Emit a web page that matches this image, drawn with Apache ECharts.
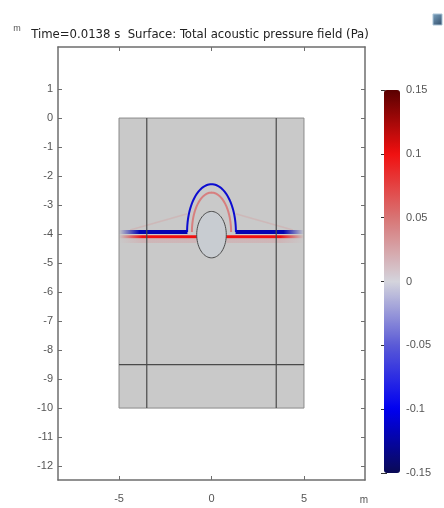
<!DOCTYPE html>
<html><head><meta charset="utf-8">
<script src="https://cdn.jsdelivr.net/npm/echarts@6/dist/echarts.min.js"></script>
<style>html,body{margin:0;padding:0;background:#fff}#c{width:444px;height:508px}</style>
</head><body><div id="c"></div>
<script>
// ---- data ----
const titleText = 'Time=0.0138 s  Surface: Total acoustic pressure field (Pa)';
const unitLabel = 'm';
const xTicks = [-5, 0, 5];
const yTicks = [1, 0, -1, -2, -3, -4, -5, -6, -7, -8, -9, -10, -11, -12];
const colorTicks = [0.15, 0.1, 0.05, 0, -0.05, -0.1, -0.15];
const xRange = [-8.3, 8.3];
const yRange = [-12.48, 2.45];
const pRange = [-0.15, 0.15];
// computational domain [xmin, ymax, xmax, ymin]
const domain = [[-5, 0, 5, -10]];
// interior boundaries [x0, y0, x1, y1]
const boundaries = [[-3.5, 0, -3.5, -10], [3.5, 0, 3.5, -10], [-5, -8.5, 5, -8.5]];
// scatterer [cx, cy, r]
const scatterer = [[0, -4.02, 0.8]];
// plane wave bands [p, x0, x1, y]
const planeWave = [
  [0.03, -5.0, -0.8, -4.24], [0.03, 0.8, 5.0, -4.24],
  [0.1, -5.0, -0.78, -4.09], [0.1, 0.78, 5.0, -4.09],
  [-0.12, -5.0, -1.3, -3.93], [-0.12, 1.3, 5.0, -3.93]
];
// diffracted faint fronts [p, x0, y0, x1, y1]
const diffracted = [[0.035, 1.3, -3.3, 4.4, -3.86], [0.035, -1.3, -3.3, -4.4, -3.86]];
// scattered wave fronts [p, cx, cy, rx, ry]
const scatteredWave = [[0.06, 0, -3.93, 1.06, 1.36], [-0.11, 0, -3.93, 1.32, 1.65]];

const colormap = ['#0a0a55', '#0000f0', '#5a5ad6', '#d4d4dc', '#d87474', '#f01010', '#5a0000'];
const TFONT = "'DejaVu Sans Condensed','Liberation Sans',sans-serif";
const FONT = "'Liberation Sans',sans-serif";
const AX = '#6e6e6e';

const chart = echarts.init(document.getElementById('c'), null, {renderer: 'canvas'});

function renderDomain(params, api) {
  const a = api.coord([api.value(0), api.value(1)]);
  const b = api.coord([api.value(2), api.value(3)]);
  return {type: 'rect', shape: {x: a[0], y: a[1], width: b[0] - a[0], height: b[1] - a[1]},
    style: {fill: '#c9c9c9', stroke: '#8a8a8a', lineWidth: 1}};
}
function renderSeg(params, api) {
  const a = api.coord([api.value(0), api.value(1)]);
  const b = api.coord([api.value(2), api.value(3)]);
  return {type: 'line', shape: {x1: a[0], y1: a[1], x2: b[0], y2: b[1]},
    style: {stroke: '#4a4a4a', lineWidth: 1.2}};
}
function fadeColor(c) { return echarts.color.modifyAlpha(c, 0); }
function renderBand(params, api) {
  const p = api.value(0);
  const x0 = api.value(1), x1 = api.value(2), y = api.value(3);
  const a = api.coord([x0, y]);
  const b = api.coord([x1, y]);
  const color = api.visual('color');
  const outerLeft = Math.abs(x0) > Math.abs(x1);
  const stops = outerLeft
    ? [{offset: 0, color: fadeColor(color)}, {offset: 0.3, color: color}, {offset: 1, color: color}]
    : [{offset: 0, color: color}, {offset: 0.7, color: color}, {offset: 1, color: fadeColor(color)}];
  const faint = Math.abs(p) < 0.05;
  return {type: 'line', shape: {x1: a[0], y1: a[1], x2: b[0], y2: b[1]},
    style: {stroke: {type: 'linear', x: a[0], y: 0, x2: b[0], y2: 0, global: true, colorStops: stops},
      lineWidth: faint ? 4 : (p < 0 ? 4 : 3), opacity: faint ? 0.4 : 1}};
}
function renderDiff(params, api) {
  const a = api.coord([api.value(1), api.value(2)]);
  const b = api.coord([api.value(3), api.value(4)]);
  return {type: 'line', shape: {x1: a[0], y1: a[1], x2: b[0], y2: b[1]},
    style: {stroke: api.visual('color'), lineWidth: 1.5, opacity: 0.3}};
}
function renderArc(params, api) {
  const c = api.coord([api.value(1), api.value(2)]);
  const s = api.size([api.value(3), api.value(4)]);
  const pts = [];
  for (let i = 0; i <= 60; i++) {
    const t = Math.PI * i / 60;
    pts.push([c[0] + s[0] * Math.cos(t), c[1] - s[1] * Math.sin(t)]);
  }
  const p = api.value(0);
  return {type: 'polyline', shape: {points: pts},
    style: {stroke: api.visual('color'), fill: null, lineWidth: 2, opacity: p < 0 ? 0.95 : 0.7}};
}
function renderScatterer(params, api) {
  const c = api.coord([api.value(0), api.value(1)]);
  const s = api.size([api.value(2), api.value(2)]);
  const pts = [];
  for (let i = 0; i < 72; i++) {
    const t = 2 * Math.PI * i / 72;
    pts.push([c[0] + s[0] * Math.cos(t), c[1] + s[1] * Math.sin(t)]);
  }
  return {type: 'polygon', shape: {points: pts},
    style: {fill: '#c8ccd1', stroke: '#4a4a4a', lineWidth: 1}};
}

const axisCommon = {
  type: 'value', gridIndex: 0,
  axisLine: {show: true, onZero: false, lineStyle: {color: AX, width: 1.5}},
  splitLine: {show: false}
};

const option = {
  animation: false,
  backgroundColor: '#ffffff',
  grid: [
    {left: 58, top: 47, width: 307, height: 433},
    {left: 384, top: 90, width: 16, height: 383}
  ],
  xAxis: [
    Object.assign({}, axisCommon, {position: 'bottom', min: xRange[0], max: xRange[1],
      axisTick: {inside: true, length: 4, customValues: xTicks, lineStyle: {color: AX}},
      axisLabel: {customValues: xTicks, margin: 13, fontSize: 11, color: '#555', fontFamily: FONT}}),
    Object.assign({}, axisCommon, {position: 'top', min: xRange[0], max: xRange[1],
      axisTick: {inside: true, length: 4, customValues: xTicks, lineStyle: {color: AX}},
      axisLabel: {show: false}}),
    {type: 'value', gridIndex: 1, min: 0, max: 1, show: false}
  ],
  yAxis: [
    Object.assign({}, axisCommon, {position: 'left', min: yRange[0], max: yRange[1],
      axisTick: {inside: true, length: 4, customValues: yTicks, lineStyle: {color: AX}},
      axisLabel: {customValues: yTicks, margin: 5, fontSize: 11, color: '#555', fontFamily: FONT}}),
    Object.assign({}, axisCommon, {position: 'right', min: yRange[0], max: yRange[1],
      axisTick: {inside: true, length: 4, customValues: yTicks, lineStyle: {color: AX}},
      axisLabel: {show: false}}),
    {type: 'value', gridIndex: 1, position: 'right', min: pRange[0], max: pRange[1],
      axisLine: {show: false}, splitLine: {show: false},
      axisTick: {inside: true, length: 3, customValues: colorTicks, lineStyle: {color: '#333'}},
      axisLabel: {customValues: colorTicks, margin: 6, fontSize: 11, color: '#555', fontFamily: FONT}},
    {type: 'value', gridIndex: 1, position: 'left', min: pRange[0], max: pRange[1],
      axisLine: {show: false}, splitLine: {show: false},
      axisTick: {inside: true, length: 3, customValues: colorTicks, lineStyle: {color: '#333'}},
      axisLabel: {show: false}}
  ],
  visualMap: {
    type: 'continuous', min: pRange[0], max: pRange[1], dimension: 0,
    seriesIndex: [1, 2, 3], calculable: false, show: true, hoverLink: false,
    left: 384, top: 90, itemWidth: 16, itemHeight: 383, padding: 0, text: null,
    inRange: {color: colormap}
  },
  series: [
    {type: 'custom', name: 'domain', xAxisIndex: 0, yAxisIndex: 0, renderItem: renderDomain, data: domain, z: 1, silent: true},
    {type: 'custom', name: 'diffracted', xAxisIndex: 0, yAxisIndex: 0, renderItem: renderDiff, data: diffracted, z: 2, silent: true},
    {type: 'custom', name: 'plane', xAxisIndex: 0, yAxisIndex: 0, renderItem: renderBand, data: planeWave, z: 3, silent: true},
    {type: 'custom', name: 'scattered', xAxisIndex: 0, yAxisIndex: 0, renderItem: renderArc, data: scatteredWave, z: 4, silent: true},
    {type: 'custom', name: 'boundaries', xAxisIndex: 0, yAxisIndex: 0, renderItem: renderSeg, data: boundaries, z: 5, silent: true},
    {type: 'custom', name: 'scatterer', xAxisIndex: 0, yAxisIndex: 0, renderItem: renderScatterer, data: scatterer, z: 6, silent: true}
  ],
  graphic: [
    {type: 'text', x: 200, y: 35, style: {text: titleText, font: '13px ' + TFONT, fill: '#222', align: 'center', verticalAlign: 'middle'}},
    {type: 'text', x: 17, y: 29, style: {text: unitLabel, font: '9px ' + FONT, fill: '#555', align: 'center', verticalAlign: 'middle'}},
    {type: 'text', x: 364, y: 500, style: {text: unitLabel, font: '10px ' + FONT, fill: '#555', align: 'center', verticalAlign: 'middle'}},
    {type: 'rect', shape: {x: 433, y: 14, width: 9, height: 11},
      style: {fill: {type: 'linear', x: 0, y: 0, x2: 1, y2: 1, colorStops: [{offset: 0, color: '#7fa6c4'}, {offset: 1, color: '#2e4a66'}]}, stroke: '#a9c3d6', lineWidth: 1}}
  ]
};
chart.setOption(option);
</script>
</body></html>
